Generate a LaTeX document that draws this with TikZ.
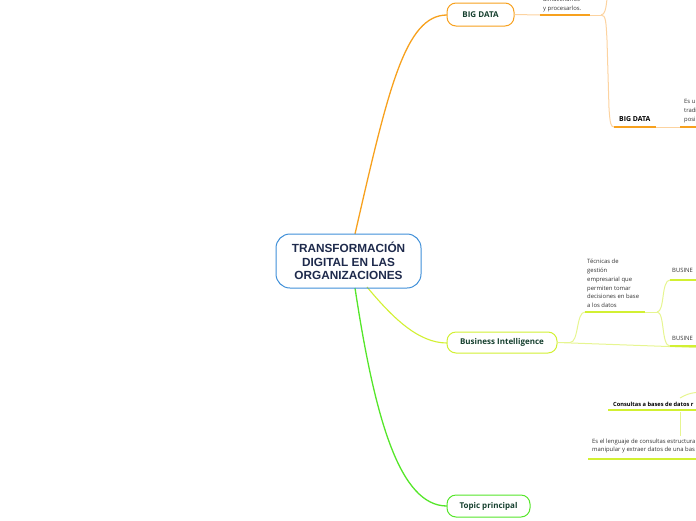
\documentclass[tikz,border=0pt]{standalone}
\usepackage{fontspec}
\setmainfont{Open Sans}
\newfontfamily\arialfont{Liberation Sans}
\definecolor{orangeC}{HTML}{F7A11E}
\definecolor{orangeL}{HTML}{FCD3A0}
\definecolor{yelC}{HTML}{D2F032}
\definecolor{yelL}{HTML}{E6F590}
\definecolor{grnC}{HTML}{55E62A}
\definecolor{bluC}{HTML}{3F8FD8}
\definecolor{labC}{HTML}{16402F}
\definecolor{cenC}{HTML}{1E2A4C}
\definecolor{txtC}{HTML}{333333}
\begin{document}
\begin{tikzpicture}[x=1pt,y=-1pt,
  central/.style={draw=bluC, line width=1pt, rounded corners=14pt, minimum width=145pt, minimum height=54pt, align=center, text=cenC, font=\arialfont\bfseries\fontsize{11.8}{13.8}\selectfont, inner sep=0pt},
  topicbox/.style={line width=1pt, rounded corners=9pt, text=labC, font=\bfseries\fontsize{8}{9.5}\selectfont, inner sep=0pt, fill=white},
  smalltxt/.style={anchor=west, text=txtC, font=\fontsize{5.9}{8.8}\selectfont, inner sep=0pt, align=left},
  boldtxt/.style={anchor=west, text=black, font=\bfseries\fontsize{6.9}{8}\selectfont, inner sep=0pt},
  boldsmall/.style={anchor=west, text=black, font=\bfseries\fontsize{5.7}{7}\selectfont, inner sep=0pt},
  thinO/.style={draw=orangeL, line width=1pt},
  thickO/.style={draw=orangeC, line width=2pt},
  thinY/.style={draw=yelL, line width=1pt},
  thickY/.style={draw=yelC, line width=2pt}]
\useasboundingbox (0,0) rectangle (696,520);
\clip (0,0) rectangle (696,520);

% main branches
\coordinate (c1) at (355,234);
\coordinate (c2) at (367,287);
\coordinate (c3) at (355,288);
\draw[orangeC, line width=1.3pt] (c1) .. controls (388,90) and (405,15) .. (447,15);
\draw[yelC, line width=1.1pt] (c2) .. controls (392,317) and (418,343) .. (447,343);
\draw[grnC, line width=1.3pt] (c3) .. controls (375,420) and (400,506) .. (447,506);

\node[central] (c) at (348.5,261) {TRANSFORMACIÓN\\DIGITAL EN LAS\\ORGANIZACIONES};
\node[topicbox, draw=orangeC, minimum width=67pt, minimum height=23pt] (bd) at (480.5,14.5) {BIG DATA};
\node[topicbox, draw=yelC, minimum width=110pt, minimum height=21pt] (bi) at (502,342.5) {Business Intelligence};
\node[topicbox, draw=grnC, minimum width=83pt, minimum height=22pt] (tp) at (488.5,506) {Topic principal};

% BIG DATA subtree
\coordinate (b1) at (540,15);
\coordinate (b2) at (590,15);
\coordinate (bf) at (601,15);
\coordinate (bup) at (607,-1);
\coordinate (bd1) at (614,127);
\coordinate (bd2) at (656,127);
\coordinate (bd3) at (680,127);
\coordinate (bd4) at (696,127);
\draw[thinO] (bd.east) -- (b1);
\draw[thickO] (b1) -- (b2);
\draw[thinO] (b2) -- (bf);
\draw[thinO] (bf) .. controls (605,15) and (606,8) .. (bup);
\draw[thinO] (bf) .. controls (606,15) and (606,22) .. (607,40) -- (609,108) .. controls (610,124) and (611,127) .. (bd1);
\draw[thickO] (bd1) -- (bd2);
\draw[thinO] (bd2) -- (bd3);
\draw[thickO] (bd3) -- (bd4);
\node[smalltxt] (t0) at (543,-0.5) {almacenarlos};
\node[smalltxt] (t1) at (543,8.5) {y procesarlos.};
\node[boldtxt] (t2) at (619,119.5) {BIG DATA};
\node[smalltxt] (t3) at (684,111) {Es u\\tradi\\posi};

% Business Intelligence subtree
\coordinate (i1) at (570,342.5);
\coordinate (i2) at (585,312);
\coordinate (i3) at (645,312);
\coordinate (if) at (657,312);
\coordinate (iu) at (670,280);
\coordinate (iu2) at (696,280);
\coordinate (id) at (670,346);
\coordinate (id2) at (696,346);
\coordinate (ie) at (696,347.5);
\draw[thinY] (bi.east) -- (i1);
\draw[thinY] (i1) .. controls (579,342.5) and (576,312) .. (i2);
\draw[thickY] (i2) -- (i3);
\draw[thinY] (i3) -- (if);
\draw[thinY] (if) .. controls (665,312) and (661,280) .. (iu);
\draw[thinY] (if) .. controls (665,312) and (661,346) .. (id);
\draw[thinY] (bi.east) -- (ie);
\draw[thickY] (iu) -- (iu2);
\draw[thickY] (id) -- (id2);
\node[smalltxt] (t4) at (587,283.5) {Técnicas de\\gestión\\empresarial que\\permiten tomar\\decisiones en base\\a los datos};
\node[smalltxt] (t5) at (672,270.5) {BUSINE};
\node[smalltxt] (t6) at (672,338.5) {BUSINE};

% SQL subtree
\coordinate (s0) at (680,398);
\coordinate (s0b) at (696,392.5);
\coordinate (s1) at (608,410);
\coordinate (s2) at (696,410);
\coordinate (s3) at (680.5,412);
\coordinate (s4) at (680.5,436);
\coordinate (s5) at (588,459);
\coordinate (s6) at (696,459);
\draw[thinY] (s0) .. controls (685,395) and (690,393) .. (s0b);
\draw[thickY] (s1) -- (s2);
\draw[thinY] (s3) -- (s4);
\draw[thickY] (s5) -- (s6);
\node[boldsmall] (t7) at (613,404) {Consultas a bases de datos r};
\node[smalltxt] (t8) at (592,446) {Es el lenguaje de consultas estructura\\manipular y extraer datos de una bas};
\end{tikzpicture}
\end{document}
